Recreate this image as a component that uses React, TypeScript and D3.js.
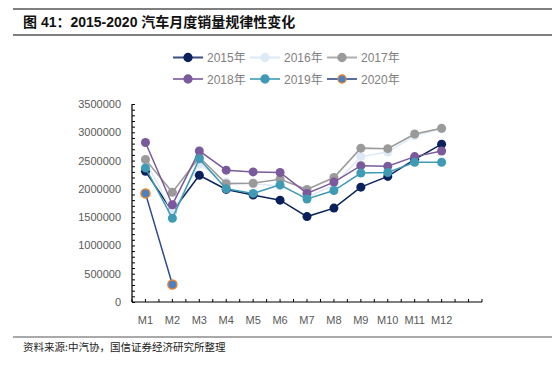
import React, { useRef, useEffect } from 'react';
import * as d3 from 'd3';

// monthly sales
const months = ['M1', 'M2', 'M3', 'M4', 'M5', 'M6', 'M7', 'M8', 'M9', 'M10', 'M11', 'M12'];
const s2015 = [2310000, 1600000, 2240000, 1990000, 1890000, 1800000, 1510000, 1660000, 2030000, 2220000, 2520000, 2790000];
const s2016 = [2500000, 1590000, 2440000, 2120000, 2090000, 2050000, 1850000, 2070000, 2570000, 2650000, 2940000, 3060000];
const s2017 = [2520000, 1940000, 2560000, 2090000, 2100000, 2170000, 1990000, 2200000, 2720000, 2710000, 2970000, 3070000];
const s2018 = [2820000, 1720000, 2670000, 2330000, 2300000, 2290000, 1920000, 2120000, 2410000, 2400000, 2570000, 2670000];
const s2019 = [2370000, 1480000, 2530000, 2000000, 1920000, 2070000, 1820000, 1970000, 2280000, 2290000, 2470000, 2470000];
const s2020 = [1920000, 310000];

const seriesNames = ['2015年', '2016年', '2017年', '2018年', '2019年', '2020年'];
const seriesValues = [s2015, s2016, s2017, s2018, s2019, s2020];
const yTicks = [0, 500000, 1000000, 1500000, 2000000, 2500000, 3000000, 3500000];

const lineColors = ['#0a215c', '#dde9f6', '#9a9a9a', '#7a5a9c', '#3f9ab5', '#2f4a8c'];
const dotFill = ['#0a215c', '#dde9f6', '#9a9a9a', '#7a5a9c', '#3f9ab5', '#4a80c4'];
const dotStroke = ['#0a215c', '#dde9f6', '#9a9a9a', '#7a5a9c', '#3f9ab5', '#e0822f'];

const FONT = "'Liberation Sans', Arial, 'Noto Sans CJK SC', sans-serif";

const App = () => {
    const svgRef = useRef(null);

    useEffect(() => {
        document.body.style.margin = '0';
        const svg = d3.select(svgRef.current);
        svg.selectAll('*').remove();

        const margin = { top: 104, left: 132, bottom: 302, right: 482 };

        // one empty slot after M12, the axis runs past it
        const x = d3.scaleBand()
            .domain([...months, ''])
            .range([margin.left, margin.right]);

        const y = d3.scaleLinear()
            .domain([0, 3500000])
            .range([margin.bottom, margin.top]);

        // title and rules
        svg.append('line').attr('x1', 13).attr('x2', 552).attr('y1', 9).attr('y2', 9)
            .attr('stroke', '#555').attr('stroke-width', 1.5);
        svg.append('line').attr('x1', 13).attr('x2', 552).attr('y1', 35).attr('y2', 35)
            .attr('stroke', '#555').attr('stroke-width', 1.5);
        svg.append('text')
            .attr('x', 23).attr('y', 27)
            .attr('font-family', FONT).attr('font-weight', 'bold').attr('font-size', 14)
            .attr('fill', '#111')
            .text('图 41：2015-2020 汽车月度销量规律性变化');

        svg.append('line').attr('x1', 13).attr('x2', 552).attr('y1', 337).attr('y2', 337)
            .attr('stroke', '#555').attr('stroke-width', 1.2);
        svg.append('text')
            .attr('x', 23).attr('y', 351)
            .attr('font-family', "'Noto Sans CJK SC', sans-serif").attr('font-size', 10.5)
            .attr('fill', '#222')
            .text('资料来源:中汽协，国信证券经济研究所整理');

        // legend
        const legend = svg.append('g').attr('font-family', FONT).attr('font-size', 12);
        seriesNames.forEach((name, i) => {
            const lx = 173 + (i % 3) * 77;
            const ly = 57.5 + Math.floor(i / 3) * 21.5;
            const g = legend.append('g').attr('transform', `translate(${lx},${ly})`);
            g.append('line').attr('x1', 0).attr('x2', 30).attr('y1', 0).attr('y2', 0)
                .attr('stroke', lineColors[i]).attr('stroke-width', 2).attr('opacity', i === 1 ? 1 : 0.8);
            g.append('circle').attr('cx', 15).attr('cy', 0).attr('r', 4)
                .attr('fill', dotFill[i]).attr('stroke', dotStroke[i]).attr('stroke-width', 1.3);
            g.append('text').attr('x', 34).attr('y', 4.5).attr('fill', '#7f7f7f').text(name);
        });

        // axes
        const yAxis = svg.append('g')
            .attr('transform', `translate(${margin.left},0)`)
            .call(d3.axisRight(y).tickValues(d3.range(0, 3500001, 100000)).tickSize(3).tickFormat(() => ''));
        yAxis.select('.domain').remove();
        yAxis.selectAll('line').attr('stroke', '#000');

        svg.append('g')
            .attr('font-family', FONT).attr('font-size', 11).attr('fill', '#595959')
            .attr('text-anchor', 'end')
            .selectAll('text')
            .data(yTicks)
            .join('text')
            .attr('x', margin.left - 11)
            .attr('y', d => y(d) + 4)
            .text(d => String(d));

        const halfBand = x.bandwidth() / 2;
        const xTickPos = d3.range(0, 27).map(i => margin.left + i * halfBand);
        svg.append('g')
            .selectAll('line')
            .data(xTickPos)
            .join('line')
            .attr('x1', d => d).attr('x2', d => d)
            .attr('y1', margin.bottom).attr('y2', margin.bottom - 3)
            .attr('stroke', '#000');

        svg.append('line')
            .attr('x1', margin.left).attr('x2', margin.left)
            .attr('y1', margin.top).attr('y2', margin.bottom)
            .attr('stroke', '#000').attr('stroke-width', 1.2);
        svg.append('line')
            .attr('x1', margin.left).attr('x2', margin.right)
            .attr('y1', margin.bottom).attr('y2', margin.bottom)
            .attr('stroke', '#000').attr('stroke-width', 1.2);

        svg.append('g')
            .attr('font-family', FONT).attr('font-size', 11).attr('fill', '#595959')
            .attr('text-anchor', 'middle')
            .selectAll('text')
            .data(months)
            .join('text')
            .attr('x', d => x(d) + halfBand)
            .attr('y', 324)
            .text(d => d);

        // series
        const line = d3.line()
            .x((d, i) => x(months[i]) + halfBand)
            .y(d => y(d));

        seriesValues.forEach((vals, k) => {
            const g = svg.append('g');
            g.append('path')
                .datum(vals)
                .attr('d', line)
                .attr('fill', 'none')
                .attr('stroke', lineColors[k])
                .attr('stroke-width', 1.5);
            g.selectAll('circle')
                .data(vals)
                .join('circle')
                .attr('cx', (d, i) => x(months[i]) + halfBand)
                .attr('cy', d => y(d))
                .attr('r', 4.5)
                .attr('fill', dotFill[k])
                .attr('stroke', dotStroke[k])
                .attr('stroke-width', k === 5 ? 1.5 : 0);
        });
    }, []);

    return <svg ref={svgRef} width={552} height={366} style={{ position: 'absolute', left: 0, top: 0 }}></svg>;
};

export default App;
